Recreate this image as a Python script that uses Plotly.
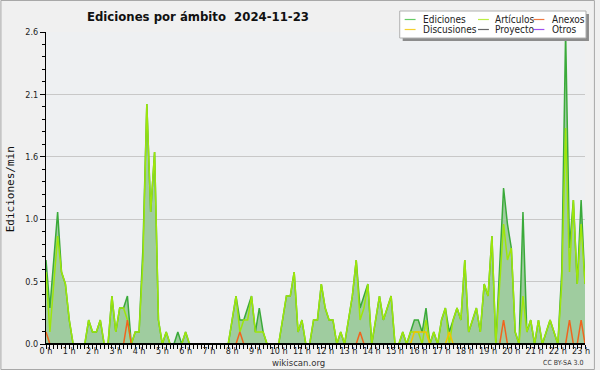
import plotly.graph_objects as go

# ---------------- data (10-minute samples, edits per minute) ----------------
paso_min = 10
ediciones = [
    0.7, 0.3, 0.7, 1.1, 0.6, 0.5, 0.2, 0.0, 0.0, 0.0, 0.0, 0.2,
    0.1, 0.1, 0.2, 0.0, 0.0, 0.4, 0.1, 0.3, 0.3, 0.4, 0.0, 0.1,
    0.1, 0.8, 2.0, 1.1, 1.6, 0.2, 0.0, 0.1, 0.0, 0.0, 0.1, 0.0,
    0.1, 0.0, 0.0, 0.0, 0.0, 0.0, 0.0, 0.0, 0.0, 0.0, 0.0, 0.0,
    0.2, 0.4, 0.2, 0.2, 0.3, 0.4, 0.1, 0.3, 0.1, 0.0, 0.0, 0.0,
    0.0, 0.2, 0.4, 0.4, 0.6, 0.1, 0.2, 0.0, 0.0, 0.2, 0.2, 0.5,
    0.3, 0.2, 0.2, 0.0, 0.1, 0.0, 0.2, 0.4, 0.7, 0.3, 0.4, 0.5,
    0.0, 0.2, 0.4, 0.2, 0.3, 0.4, 0.0, 0.0, 0.1, 0.0, 0.1, 0.2,
    0.2, 0.1, 0.3, 0.0, 0.1, 0.0, 0.2, 0.3, 0.1, 0.2, 0.3, 0.2,
    0.7, 0.1, 0.2, 0.3, 0.1, 0.5, 0.4, 0.9, 0.0, 0.7, 1.3, 1.0,
    0.8, 0.1, 0.0, 1.1, 0.1, 0.2, 0.0, 0.2, 0.0, 0.1, 0.2, 0.1,
    0.0, 0.6, 2.6, 0.8, 1.2, 0.5, 1.2, 0.5,
]
articulos = [
    0.6, 0.1, 0.5, 0.9, 0.6, 0.5, 0.2, 0.0, 0.0, 0.0, 0.0, 0.2,
    0.1, 0.1, 0.2, 0.0, 0.0, 0.4, 0.1, 0.3, 0.3, 0.2, 0.0, 0.1,
    0.1, 0.7, 2.0, 1.1, 1.6, 0.2, 0.0, 0.1, 0.0, 0.0, 0.0, 0.0,
    0.1, 0.0, 0.0, 0.0, 0.0, 0.0, 0.0, 0.0, 0.0, 0.0, 0.0, 0.0,
    0.2, 0.4, 0.1, 0.2, 0.2, 0.4, 0.1, 0.1, 0.1, 0.0, 0.0, 0.0,
    0.0, 0.2, 0.4, 0.4, 0.6, 0.1, 0.2, 0.0, 0.0, 0.2, 0.2, 0.5,
    0.3, 0.2, 0.2, 0.0, 0.1, 0.0, 0.2, 0.4, 0.7, 0.2, 0.3, 0.5,
    0.0, 0.2, 0.4, 0.2, 0.3, 0.4, 0.0, 0.0, 0.1, 0.0, 0.1, 0.1,
    0.1, 0.0, 0.2, 0.0, 0.1, 0.0, 0.2, 0.3, 0.0, 0.2, 0.3, 0.2,
    0.7, 0.1, 0.2, 0.3, 0.1, 0.5, 0.4, 0.9, 0.0, 0.5, 1.0, 0.7,
    0.8, 0.1, 0.0, 0.4, 0.1, 0.2, 0.0, 0.2, 0.0, 0.1, 0.2, 0.1,
    0.0, 0.5, 1.8, 0.6, 1.2, 0.5, 1.0, 0.5,
]
anexos = [
    0.1, 0, 0, 0, 0, 0, 0, 0, 0, 0, 0, 0,
    0, 0, 0, 0, 0, 0, 0, 0, 0, 0.2, 0, 0,
    0, 0, 0, 0, 0, 0, 0, 0, 0, 0, 0, 0,
    0, 0, 0, 0, 0, 0, 0, 0, 0, 0, 0, 0,
    0, 0, 0.1, 0, 0, 0, 0, 0, 0, 0, 0, 0,
    0, 0, 0, 0, 0, 0, 0, 0, 0, 0, 0, 0,
    0, 0, 0, 0, 0, 0, 0, 0, 0, 0.1, 0, 0,
    0, 0, 0, 0, 0, 0, 0, 0, 0, 0, 0, 0,
    0, 0, 0, 0, 0, 0, 0, 0, 0, 0, 0, 0,
    0, 0, 0, 0, 0, 0, 0, 0, 0, 0, 0.2, 0,
    0, 0, 0, 0, 0, 0, 0, 0, 0, 0, 0, 0,
    0, 0, 0, 0.2, 0, 0, 0.2, 0,
]
discusiones = [
    0, 0, 0, 0, 0, 0, 0, 0, 0, 0, 0, 0,
    0, 0, 0, 0, 0, 0, 0, 0, 0, 0, 0, 0,
    0, 0, 0, 0, 0, 0, 0, 0, 0, 0, 0, 0,
    0, 0, 0, 0, 0, 0, 0, 0, 0, 0, 0, 0,
    0, 0, 0, 0, 0, 0, 0, 0, 0, 0, 0, 0,
    0, 0, 0, 0, 0, 0, 0, 0, 0, 0, 0, 0,
    0, 0, 0, 0, 0, 0, 0, 0, 0, 0, 0, 0,
    0, 0, 0, 0, 0, 0, 0, 0, 0, 0, 0, 0.1,
    0.1, 0.1, 0.1, 0, 0, 0, 0, 0, 0.1, 0, 0, 0,
    0, 0, 0, 0, 0, 0, 0, 0, 0, 0, 0, 0,
    0, 0, 0, 0, 0, 0, 0, 0, 0, 0, 0, 0,
    0, 0, 0, 0, 0, 0, 0, 0,
]
proyecto = [
    0, 0, 0, 0, 0, 0, 0, 0, 0, 0, 0, 0,
    0, 0, 0, 0, 0, 0, 0, 0, 0, 0, 0, 0,
    0, 0, 0, 0, 0, 0, 0, 0, 0, 0, 0, 0,
    0, 0, 0, 0, 0, 0, 0, 0, 0, 0, 0, 0,
    0, 0, 0, 0, 0, 0, 0, 0, 0, 0, 0, 0,
    0, 0, 0, 0, 0, 0, 0, 0, 0, 0, 0, 0,
    0, 0, 0, 0, 0, 0, 0, 0, 0, 0, 0, 0,
    0, 0, 0, 0, 0, 0, 0, 0, 0, 0, 0, 0,
    0, 0, 0, 0, 0, 0, 0, 0, 0, 0, 0, 0,
    0, 0, 0, 0, 0, 0, 0, 0, 0, 0, 0, 0,
    0, 0, 0, 0, 0, 0, 0, 0, 0, 0, 0, 0,
    0, 0, 0, 0, 0, 0, 0, 0,
]
otros = [
    0, 0, 0, 0, 0, 0, 0, 0, 0, 0, 0, 0,
    0, 0, 0, 0, 0, 0, 0, 0, 0, 0, 0, 0,
    0, 0, 0, 0, 0, 0, 0, 0, 0, 0, 0, 0,
    0, 0, 0, 0, 0, 0, 0, 0, 0, 0, 0, 0,
    0, 0, 0, 0, 0, 0, 0, 0, 0, 0, 0, 0,
    0, 0, 0, 0, 0, 0, 0, 0, 0, 0, 0, 0,
    0, 0, 0, 0, 0, 0, 0, 0, 0, 0, 0, 0,
    0, 0, 0, 0, 0, 0, 0, 0, 0, 0, 0, 0,
    0, 0, 0, 0, 0, 0, 0, 0, 0, 0, 0, 0,
    0, 0, 0, 0, 0, 0, 0, 0, 0, 0, 0, 0,
    0, 0, 0, 0, 0, 0, 0, 0, 0, 0, 0, 0,
    0, 0, 0, 0, 0, 0, 0, 0,
]
horas = [k * paso_min / 60 for k in range(len(ediciones))]

nombres = ["Ediciones", "Artículos", "Anexos", "Discusiones", "Proyecto", "Otros"]
series = [ediciones, articulos, anexos, discusiones, proyecto, otros]
colores = ["#3aaa3a", "#9ee60a", "#f0641e", "#f2c200", "#555555", "#9a3cf0"]
legend_colores = ["#66cc66", "#bbee44", "#f07840", "#f5d030", "#666666", "#a050f0"]

titulo = "Ediciones por ámbito\u00a0 2024-11-23"
y_titulo = "Ediciones/min"
sitio = "wikiscan.org"
licencia = "CC BY-SA 3.0"

# ---------------- layout geometry (pixels) ----------------
W, H = 600, 370
L, R, T, B = 46, 10, 32, 26
PW, PH = W - L - R, H - T - B
FONT = "DejaVu Sans Condensed, DejaVu Sans, sans-serif"
TFONT = "Liberation Sans Narrow, DejaVu Sans Condensed, sans-serif"


def px(x):
    return (x - L) / PW


def py(y):
    return (H - B - y) / PH


fig = go.Figure()
for k, (nom, ys, col) in enumerate(zip(nombres, series, colores)):
    kw = {}
    if k == 0:
        kw = dict(fill="tozeroy", fillcolor="#9fcc9f")
    fig.add_trace(go.Scatter(
        x=horas, y=ys, mode="lines", name=nom,
        line=dict(color=col, width=1.5), hoverinfo="skip",
        showlegend=False, **kw))

shapes = [
    # baseline drawn over the zero-valued segments (as in the original)
    dict(type="line", xref="x", yref="y", x0=0, x1=horas[-1], y0=0, y1=0,
         line=dict(color="#000000", width=2), layer="above"),
    # outer frame
    dict(type="rect", xref="paper", yref="paper",
         x0=px(0.5), x1=px(W - 0.5), y0=py(H - 0.5), y1=py(0.5),
         line=dict(color="#a8a8a8", width=1), fillcolor="rgba(0,0,0,0)",
         layer="above"),
    # legend shadow and box
    dict(type="rect", xref="paper", yref="paper",
         x0=px(406), x1=px(594), y0=py(41), y1=py(14),
         line=dict(width=0), fillcolor="#8c8c8c", layer="above"),
    dict(type="rect", xref="paper", yref="paper",
         x0=px(403), x1=px(591), y0=py(38), y1=py(11),
         line=dict(color="#b0b0b0", width=1), fillcolor="#ffffff",
         layer="above"),
]
annotations = [
    dict(text="<b>" + titulo + "</b>", xref="paper", yref="paper",
         x=px(85), y=py(17), xanchor="left", yanchor="middle",
         showarrow=False, font=dict(family=TFONT, size=13, color="#111")),
    dict(text=y_titulo, xref="paper", yref="paper", x=px(10), y=py(189),
         xanchor="center", yanchor="middle", textangle=-90, showarrow=False,
         font=dict(family="DejaVu Sans Mono, monospace", size=11, color="#111")),
    dict(text=sitio, xref="paper", yref="paper", x=px(301), y=py(362.5),
         xanchor="center", yanchor="middle", showarrow=False,
         font=dict(family=FONT, size=9.5, color="#333")),
    dict(text=licencia, xref="paper", yref="paper", x=px(590), y=py(362.5),
         xanchor="right", yanchor="middle", showarrow=False,
         font=dict(family=FONT, size=7, color="#333")),
]
col_line = [408, 482, 538]
col_text = [424, 497, 555]
row_y = [19.5, 29.5]
for k, (nom, col) in enumerate(zip(nombres, legend_colores)):
    c, r = k % 3, k // 3
    shapes.append(dict(type="line", xref="paper", yref="paper",
                       x0=px(col_line[c]), x1=px(col_line[c] + 11),
                       y0=py(row_y[r]), y1=py(row_y[r]),
                       line=dict(color=col, width=1.2), layer="above"))
    annotations.append(dict(text=nom, xref="paper", yref="paper",
                            x=px(col_text[c]), y=py(row_y[r]),
                            xanchor="left", yanchor="middle", showarrow=False,
                            font=dict(family=FONT, size=10, color="#222")))

fig.update_layout(
    width=W, height=H, margin=dict(l=L, r=R, t=T, b=B, pad=0),
    paper_bgcolor="#f0f0f0", plot_bgcolor="#eef0f2",
    font=dict(family=FONT, size=9, color="#222"),
    shapes=shapes, annotations=annotations, showlegend=False,
    xaxis=dict(range=[0, horas[-1]], tickmode="linear", tick0=0, dtick=1,
               ticksuffix=" h", showgrid=False, zeroline=False,
               showline=True, linecolor="#000", linewidth=1,
               ticks="outside", ticklen=4, tickcolor="#000",
               ticklabelstandoff=-6,
               tickfont=dict(size=9, color="#222"),
               minor=dict(dtick=paso_min / 60, ticks="outside", ticklen=4,
                          tickcolor="#000", showgrid=False)),
    yaxis=dict(range=[0, 2.6], tickmode="linear", tick0=0, dtick=0.52,
               tickformat=".1f", showgrid=True, gridcolor="#c8c8c8",
               gridwidth=1, zeroline=False, showline=True, linecolor="#000",
               linewidth=1, ticks="outside", ticklen=5, tickcolor="#000",
               tickfont=dict(size=9, color="#222"),
               minor=dict(dtick=0.104, ticks="outside", ticklen=3,
                          tickcolor="#000", showgrid=False)),
)

fig.write_html(
    "out.html",
    config={"displayModeBar": False, "staticPlot": True},
    post_script="document.body.style.margin='0';document.body.style.overflow='hidden';",
)
